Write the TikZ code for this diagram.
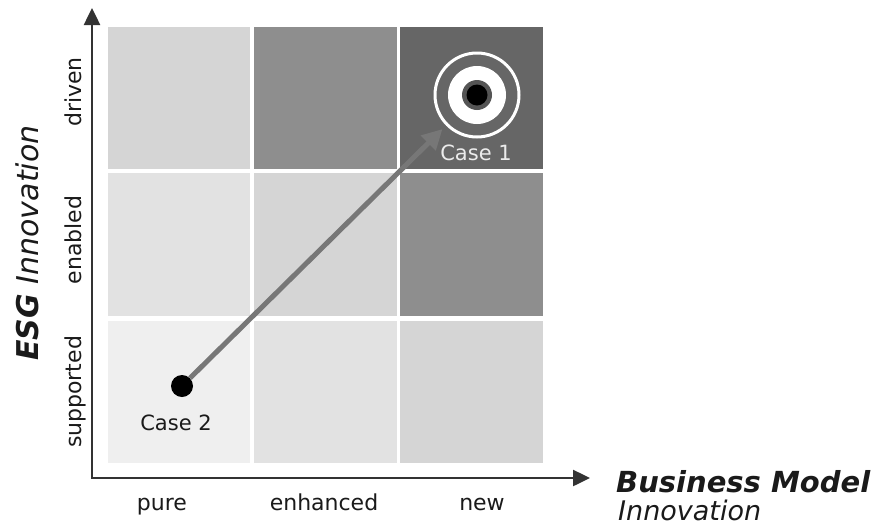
\documentclass[tikz,border=0pt]{standalone}
\usepackage{fontspec}
\setmainfont{DejaVu Sans}
\usetikzlibrary{arrows.meta,positioning}

\definecolor{cellpale}{HTML}{EFEFEF}
\definecolor{celllight}{HTML}{E2E2E2}
\definecolor{cellmid}{HTML}{D5D5D5}
\definecolor{celldark}{HTML}{8E8E8E}
\definecolor{celldeep}{HTML}{666666}
\definecolor{ringgray}{HTML}{555555}
\definecolor{trendgray}{HTML}{777777}
\definecolor{axisgray}{HTML}{333333}
\definecolor{inkgray}{HTML}{1A1A1A}

\begin{document}
\begin{tikzpicture}[x=1pt, y=-1pt,
    cell/.style={minimum width=142.5pt, minimum height=142.5pt, inner sep=0pt},
    ticklabel/.style={font=\fontsize{22}{26}\selectfont, text=inkgray, inner sep=0pt, anchor=base},
    caselabel/.style={font=\fontsize{21}{25}\selectfont, inner sep=0pt},
    disc/.style={circle, inner sep=0pt},
    axis/.style={line width=2.5pt, draw=axisgray, {Triangle[length=17pt,width=16pt]}-{Triangle[length=17pt,width=16pt]}},
    trend/.style={line width=5pt, draw=trendgray, -{Triangle[length=20pt,width=20pt]}, shorten >=5pt}]
    \useasboundingbox (0,0) rectangle (878,528);
    \path (179,  98)   node [cell, fill=cellmid]   (drivenpure) {};
    \path (325.5, 98)  node [cell, fill=celldark]  (drivenenh) {};
    \path (471.5, 98)  node [cell, fill=celldeep]  (drivennew) {};
    \path (179, 244.5) node [cell, fill=celllight] (enabledpure) {};
    \path (325.5,244.5) node [cell, fill=cellmid]  (enabledenh) {};
    \path (471.5,244.5) node [cell, fill=celldark] (enablednew) {};
    \path (179, 392)   node [cell, fill=cellpale]  (supppure) {};
    \path (325.5,392)  node [cell, fill=celllight] (suppenh) {};
    \path (471.5,392)  node [cell, fill=cellmid]   (suppnew) {};
    \coordinate (ytip) at (92, 8);
    \coordinate (origin) at (92, 478);
    \coordinate (xtip) at (590, 478);
    \draw [axis] (ytip) -- (origin) -- (xtip);
    \path (162, 510) node [ticklabel] (pure) {pure};
    \path (324, 510) node [ticklabel] (enhanced) {enhanced};
    \path (482, 510) node [ticklabel] (new) {new};
    \path (81,  92) node [ticklabel, rotate=90] (driven) {driven};
    \path (81, 240) node [ticklabel, rotate=90] (enabled) {enabled};
    \path (81, 392) node [ticklabel, rotate=90] (supported) {supported};
    \path (38, 243) node [ticklabel, rotate=90, font=\fontsize{30}{34}\selectfont\itshape] (esglabel) {\bfseries ESG\mdseries{} Innovation};
    \path (616, 492) node [ticklabel, anchor=base west, font=\fontsize{29}{34}\selectfont\bfseries\itshape] (bmlabel) {Business Model};
    \path (618, 520) node [ticklabel, anchor=base west, font=\fontsize{27}{31}\selectfont\itshape] (bminno) {Innovation};
    \path (477, 95) node [disc, draw=white, line width=3pt, minimum size=84pt] (ring) {};
    \path (477, 95) node [disc, fill=white, minimum size=58pt] (inner) {};
    \path (477, 95) node [disc, fill=ringgray, minimum size=30pt] (bullring) {};
    \path (477, 95) node [disc, fill=black, minimum size=21pt] (bull) {};
    \path (476, 153) node [caselabel, text=white!92!black] (case1) {Case 1};
    \path (182, 386) node [disc, fill=black, minimum size=22pt] (case2dot) {};
    \path (176, 423) node [caselabel, text=inkgray] (case2) {Case 2};
    \draw [trend] (case2dot) -- (ring);
\end{tikzpicture}
\end{document}
